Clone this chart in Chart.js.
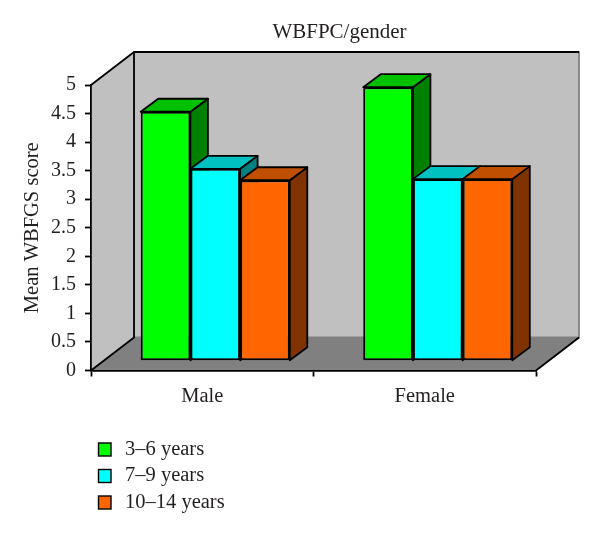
<!DOCTYPE html>
<html>
<head>
<meta charset="utf-8">
<style>
  html, body { margin: 0; padding: 0; background: #fff; }
  canvas { display: block; }
</style>
<script src="https://cdn.jsdelivr.net/npm/chart.js@4/dist/chart.umd.min.js"></script>
</head>
<body>
<canvas id="chart" width="600" height="535"></canvas>
<script>
const categories = ["Male", "Female"];
const seriesNames = ["3–6 years", "7–9 years", "10–14 years"];
const young = [4.36, 4.79];
const middle = [3.36, 3.18];
const older = [3.16, 3.18];

const frontColors = ["#00ff00", "#00ffff", "#ff6600"];
const topColors = ["#00c000", "#00c0c0", "#c05000"];
const sideColors = ["#008000", "#008080", "#803300"];

const fontName = "'Liberation Serif', serif";
const textColor = "#231f20";
const wallDepth = { x: 43, y: 33 };
const barShift = { x: 13, y: 9.8 };
const barDepth = { x: 17.5, y: 13 };

function poly(ctx, pts, fill, stroke) {
  ctx.beginPath();
  pts.forEach((p, i) => i ? ctx.lineTo(p[0], p[1]) : ctx.moveTo(p[0], p[1]));
  ctx.closePath();
  if (fill) { ctx.fillStyle = fill; ctx.fill(); }
  if (stroke) { ctx.strokeStyle = stroke; ctx.stroke(); }
}

// walls and floor behind the axes
const walls = {
  id: "walls",
  afterLayout(chart) {
    chart.titleBlock.left += 143;
  },
  beforeDraw(chart) {
    const { ctx, chartArea: a } = chart;
    const dx = wallDepth.x, dy = wallDepth.y;
    ctx.save();
    ctx.lineWidth = 1.8;
    ctx.lineJoin = "round";
    poly(ctx, [[a.left + dx, a.top - dy], [a.right + dx, a.top - dy], [a.right + dx, a.bottom - dy], [a.left + dx, a.bottom - dy]], "#c0c0c0", "#808080");
    poly(ctx, [[a.left, a.top], [a.left + dx, a.top - dy], [a.left + dx, a.bottom - dy], [a.left, a.bottom]], "#c0c0c0");
    poly(ctx, [[a.left, a.bottom], [a.left + dx, a.bottom - dy], [a.right + dx, a.bottom - dy], [a.right, a.bottom]], "#808080");
    ctx.strokeStyle = "#000";
    ctx.beginPath();
    ctx.moveTo(a.left, a.top);
    ctx.lineTo(a.left + dx, a.top - dy);
    ctx.lineTo(a.right + dx, a.top - dy);
    ctx.moveTo(a.left + dx, a.top - dy);
    ctx.lineTo(a.left + dx, a.bottom - dy);
    ctx.lineTo(a.left, a.bottom);
    ctx.moveTo(a.right + dx, a.bottom - dy);
    ctx.lineTo(a.right, a.bottom);
    ctx.stroke();
    ctx.restore();
  }
};

// tops and sides of the bars, the library then paints the fronts over them
const boxes = {
  id: "boxes",
  beforeDatasetsDraw(chart) {
    const ctx = chart.ctx;
    const dx = barDepth.x, dy = barDepth.y;
    ctx.save();
    ctx.translate(barShift.x, -barShift.y);
    ctx.lineWidth = 1.8;
    ctx.lineJoin = "round";
    categories.forEach((c, j) => {
      seriesNames.forEach((s, i) => {
        const bar = chart.getDatasetMeta(i).data[j];
        const l = bar.x - bar.width / 2, r = bar.x + bar.width / 2;
        poly(ctx, [[r, bar.y], [r + dx, bar.y - dy], [r + dx, bar.base - dy], [r, bar.base]], sideColors[i], "#000");
        poly(ctx, [[l, bar.y], [l + dx, bar.y - dy], [r + dx, bar.y - dy], [r, bar.y]], topColors[i], "#000");
      });
    });
  },
  afterDatasetsDraw(chart) {
    chart.ctx.restore();
  }
};

const legendBlock = {
  id: "legendBlock",
  afterDraw(chart) {
    const ctx = chart.ctx;
    ctx.save();
    ctx.font = "20.5px " + fontName;
    ctx.textBaseline = "middle";
    ctx.lineWidth = 1.4;
    seriesNames.forEach((name, i) => {
      const y = 449.5 + i * 26.5;
      ctx.fillStyle = frontColors[i];
      ctx.strokeStyle = "#000";
      ctx.fillRect(98.5, y - 6.5, 12.5, 13);
      ctx.strokeRect(98.5, y - 6.5, 12.5, 13);
      ctx.fillStyle = textColor;
      ctx.fillText(name, 125, y);
    });
    ctx.restore();
  }
};

new Chart(document.getElementById("chart"), {
  type: "bar",
  plugins: [walls, boxes, legendBlock],
  data: {
    labels: categories,
    datasets: [young, middle, older].map((values, i) => ({
      label: seriesNames[i],
      data: values,
      backgroundColor: frontColors[i],
      borderColor: "#000",
      borderWidth: 2,
      borderSkipped: false,
      clip: false,
      barPercentage: 1,
      categoryPercentage: 0.67
    }))
  },
  options: {
    responsive: false,
    animation: false,
    layout: { padding: { left: 0, right: 64, top: 0, bottom: 0 } },
    plugins: {
      legend: { display: false },
      tooltip: { enabled: false },
      title: {
        display: true,
        text: "WBFPC/gender",
        color: textColor,
        font: { family: fontName, size: 21, weight: "normal" },
        padding: { top: 20, bottom: 39.8 }
      }
    },
    scales: {
      x: {
        afterFit(scale) { scale.height = 164.5; },
        grid: { drawOnChartArea: false, tickLength: 6, tickColor: "#000", tickWidth: 1.8, offset: true },
        border: { color: "#000", width: 1.8 },
        ticks: { color: textColor, padding: 8, font: { family: fontName, size: 20.5 } }
      },
      y: {
        min: 0,
        max: 5,
        afterFit(scale) { scale.width = 91; },
        grid: { drawOnChartArea: false, tickLength: 6, tickColor: "#000", tickWidth: 1.8 },
        border: { color: "#000", width: 1.8 },
        title: {
          display: true,
          text: "Mean WBFGS score",
          color: textColor,
          font: { family: fontName, size: 20.5 },
          padding: { top: 20, bottom: 0 }
        },
        ticks: {
          stepSize: 0.5,
          color: textColor,
          padding: 9,
          font: { family: fontName, size: 20 },
          callback: v => String(v)
        }
      }
    }
  }
});
</script>
</body>
</html>
